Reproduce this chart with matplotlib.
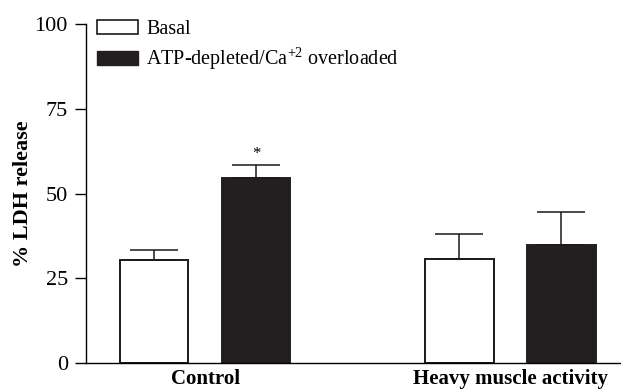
import numpy as np
import matplotlib
matplotlib.use("Agg")
import matplotlib.pyplot as plt
from matplotlib.patches import Patch

plt.rcParams["font.family"] = ["Liberation Serif", "DejaVu Serif"]
plt.rcParams["mathtext.fontset"] = "custom"
plt.rcParams["mathtext.rm"] = "Liberation Serif"

groups = ["Control", "Heavy muscle activity"]
basal_mean = [30.4, 30.7]
basal_err = [2.9, 7.3]
atp_mean = [54.6, 34.8]
atp_err = [3.8, 9.7]
yticks = [0, 25, 50, 75, 100]

x = np.arange(len(groups))
width = 0.223
offset = 0.167

fig = plt.figure(figsize=(6.21, 3.89), dpi=100)
ax = fig.add_axes([0.1385, 0.0668, 0.8615, 0.8714])

ax.bar(x - offset, basal_mean, width, color="white", edgecolor="#1a1a1a", linewidth=1.4,
       yerr=[np.zeros(len(groups)), basal_err], capsize=17, error_kw=dict(elinewidth=1.1, capthick=1.1, ecolor="#1a1a1a"),
       label="Basal", zorder=2)
ax.bar(x + offset, atp_mean, width, color="#231f20", edgecolor="#231f20", linewidth=1.4,
       yerr=[np.zeros(len(groups)), atp_err], capsize=17, error_kw=dict(elinewidth=1.1, capthick=1.1, ecolor="#1a1a1a"),
       label="ATP-depleted/Ca$^{\\mathrm{+2}}$ overloaded", zorder=1)

# significance mark over the control ATP-depleted bar
ax.text(x[0] + offset, atp_mean[0] + atp_err[0] + 1.0, "*", ha="center", va="bottom", fontsize=12)

ax.set_xlim(-0.39, 1.362)
ax.set_ylim(0, 100)
ax.set_yticks(yticks)
ax.set_xticks(x)
ax.set_xticklabels(groups, fontweight="bold", fontsize=15)
ax.tick_params(axis="x", length=0, pad=4)
ax.tick_params(axis="y", direction="out", length=8, width=1, labelsize=16, pad=5)
ax.set_ylabel("% LDH release", fontweight="bold", fontsize=16, labelpad=1)

for side in ["top", "right"]:
    ax.spines[side].set_visible(False)
ax.spines["left"].set_linewidth(1)
ax.spines["bottom"].set_linewidth(1)

handles = [Patch(facecolor="white", edgecolor="#1a1a1a", linewidth=1.2, label="Basal"),
           Patch(facecolor="#231f20", edgecolor="#231f20", label="ATP-depleted/Ca$^{\\mathrm{+2}}$ overloaded")]
ax.legend(handles=handles, loc="upper left", bbox_to_anchor=(0.005, 1.035), frameon=False,
          fontsize=14.5, handlelength=2.05, handleheight=0.7, handletextpad=0.4, labelspacing=0.28,
          borderaxespad=0)

fig.savefig("out.png", dpi=100)
